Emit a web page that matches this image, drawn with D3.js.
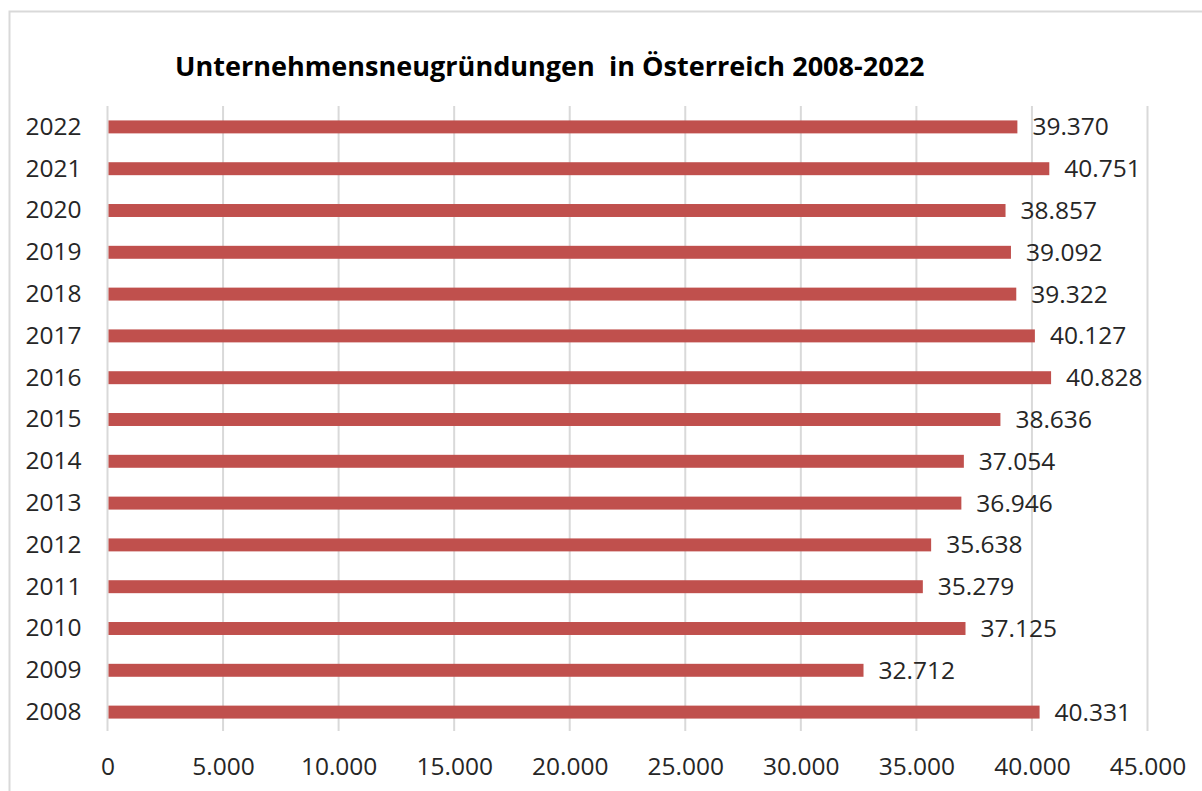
<!DOCTYPE html>
<html>
<head>
<meta charset="utf-8">
<script src="https://cdn.jsdelivr.net/npm/d3@7"></script>
<style>
  body { margin: 0; background: #fff; }
  svg { display: block; }
  text { font-family: "Open Sans", "Noto Sans", sans-serif; fill: #262626; }
</style>
</head>
<body>
<div id="chart"></div>
<script>
// data
var years = ["2022", "2021", "2020", "2019", "2018", "2017", "2016", "2015",
             "2014", "2013", "2012", "2011", "2010", "2009", "2008"];
var values = [39370, 40751, 38857, 39092, 39322, 40127, 40828, 38636,
              37054, 36946, 35638, 35279, 37125, 32712, 40331];
var xTicks = [0, 5000, 10000, 15000, 20000, 25000, 30000, 35000, 40000, 45000];
var title = "Unternehmensneugründungen  in Österreich 2008-2022";

var width = 1202, height = 791;
var plot = {left: 107.5, right: 1147.5, top: 106, bottom: 733};
var fontSize = "24.5px";

var de = d3.formatLocale({decimal: ",", thousands: ".", grouping: [3], currency: ["", " €"]});
var fmt = de.format(",d");

var svg = d3.select("#chart")
    .append("svg")
    .attr("width", width)
    .attr("height", height);

// chart frame (right and bottom edges are cut off in the original)
svg.append("path")
    .attr("d", "M9.5," + height + "V11.5H" + width)
    .attr("fill", "none")
    .attr("stroke", "#d9d9d9")
    .attr("stroke-width", 2);

var xScale = d3.scaleLinear()
    .domain([0, 45000])
    .range([plot.left, plot.right]);

var yScale = d3.scaleBand()
    .domain(years)
    .range([plot.top, plot.bottom])
    .paddingInner(0.69)
    .paddingOuter(0.345);

// vertical gridlines
svg.append("g")
    .selectAll("line")
    .data(xTicks)
    .enter()
    .append("line")
    .attr("x1", d => xScale(d))
    .attr("x2", d => xScale(d))
    .attr("y1", plot.top)
    .attr("y2", plot.bottom - 2)
    .attr("stroke", "#d9d9d9")
    .attr("stroke-width", 2);

// x axis labels
var xAxis = svg.append("g")
    .attr("transform", "translate(0,775)")
    .call(d3.axisBottom(xScale)
        .tickValues(xTicks)
        .tickFormat(fmt)
        .tickSize(0)
        .tickPadding(0));
xAxis.select(".domain").remove();
xAxis.selectAll("text")
    .attr("fill", "#262626")
    .attr("y", 0)
    .attr("dy", 0)
    .style("font-family", "'Open Sans', sans-serif")
    .style("font-size", fontSize);

// y axis labels
var yAxis = svg.append("g")
    .attr("transform", "translate(" + (plot.left - 26) + ",0)")
    .call(d3.axisLeft(yScale).tickSize(0).tickPadding(0));
yAxis.select(".domain").remove();
yAxis.selectAll("text")
    .attr("fill", "#262626")
    .style("font-family", "'Open Sans', sans-serif")
    .style("font-size", fontSize);

// bars
svg.append("g")
    .selectAll("rect")
    .data(years)
    .enter()
    .append("rect")
    .attr("x", xScale(0) + 1)
    .attr("y", d => yScale(d))
    .attr("width", (d, i) => xScale(values[i]) - xScale(0) - 1)
    .attr("height", yScale.bandwidth())
    .attr("fill", "#c0504d");

// value labels
svg.append("g")
    .selectAll("text")
    .data(years)
    .enter()
    .append("text")
    .attr("x", (d, i) => xScale(values[i]) + 15)
    .attr("y", d => yScale(d) + yScale.bandwidth() / 2)
    .attr("dy", "0.35em")
    .style("font-size", fontSize)
    .text((d, i) => fmt(values[i]));

// title, sized to span the same width as the original
var t = svg.append("text")
    .attr("x", 175)
    .attr("y", 76)
    .attr("fill", "#000")
    .style("fill", "#000")
    .style("font-weight", "bold")
    .style("font-size", "26px")
    .style("white-space", "pre")
    .attr("xml:space", "preserve")
    .text(title);
var len = t.node().getComputedTextLength();
t.style("font-size", (26 * 750 / len).toFixed(2) + "px");
</script>
</body>
</html>
